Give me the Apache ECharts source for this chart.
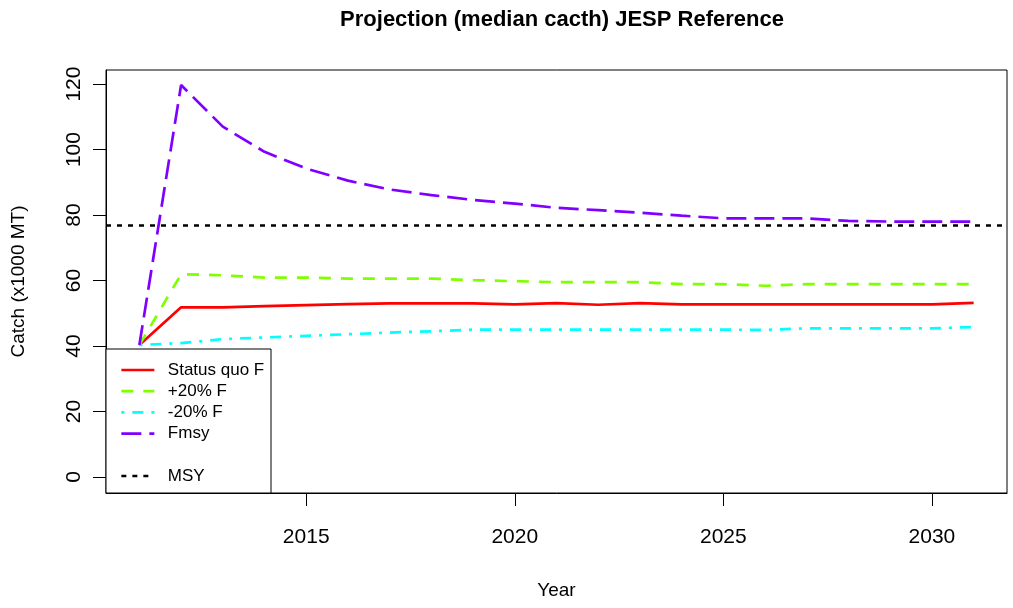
<!DOCTYPE html>
<html>
<head>
<meta charset="utf-8">
<script src="https://cdn.jsdelivr.net/npm/echarts@6/dist/echarts.min.js"></script>
<style>
html,body{margin:0;padding:0;background:#fff;}
#chart{width:1013px;height:608px;}
</style>
</head>
<body>
<div id="chart"></div>
<script>
// ---- data ----
var years = [2011,2012,2013,2014,2015,2016,2017,2018,2019,2020,2021,2022,2023,2024,2025,2026,2027,2028,2029,2030,2031];
var statusQuo = [40.3,51.8,51.8,52.2,52.5,52.8,53.0,53.0,53.0,52.7,53.1,52.6,53.1,52.7,52.7,52.7,52.7,52.7,52.7,52.7,53.2];
var plus20 = [40.3,61.9,61.6,60.9,60.9,60.6,60.6,60.6,60.1,59.8,59.5,59.5,59.5,58.9,58.9,58.4,58.9,58.9,58.9,58.9,58.9];
var minus20 = [40.3,40.9,42.1,42.6,43.1,43.6,44.1,44.5,45.0,45.0,45.0,45.0,45.0,45.0,45.0,44.9,45.4,45.4,45.4,45.4,45.8];
var fmsy = [40.3,119.7,107.0,99.3,94.2,90.5,87.8,86.1,84.6,83.5,82.2,81.5,80.7,79.8,79.0,79.0,79.0,78.2,78.0,78.0,78.0];
var msyValue = 76.9;
var xTicks = [2015,2020,2025,2030];
var yTicks = [0,20,40,60,80,100,120];
var seriesNames = ['Status quo F','+20% F','-20% F','Fmsy'];

function pairs(vals){ return years.map(function(y,i){ return [y, vals[i]]; }); }

var FONT = '"Liberation Sans", Arial, Helvetica, sans-serif';
var chart = echarts.init(document.getElementById('chart'), null, {renderer:'canvas'});

var legendCommon = {
  orient: 'vertical', left: 120, padding: 0,
  itemWidth: 33, itemHeight: 14, itemGap: 0,
  itemStyle: {opacity: 0, borderWidth: 0},
  lineStyle: {width: 2.7},
  textStyle: {fontFamily: FONT, fontSize: 17, color: '#000', lineHeight: 21.2, padding: [0,0,0,8.5]},
  selectedMode: false
};

var option = {
  animation: false,
  backgroundColor: '#ffffff',
  title: {
    text: 'Projection (median cacth) JESP Reference',
    left: 557, top: 4, textAlign: 'center',
    textStyle: {fontFamily: FONT, fontWeight: 'bold', fontSize: 22, color: '#000'}
  },
  grid: {left: 106, right: 6, top: 70, bottom: 115, show: true, borderColor: '#000', borderWidth: 1, backgroundColor: 'transparent'},
  xAxis: {
    type: 'value', min: 2010.2, max: 2031.8,
    name: 'Year', nameLocation: 'middle', nameGap: 88,
    nameTextStyle: {fontFamily: FONT, fontSize: 19, color: '#000'},
    axisLine: {show: true, onZero: false, lineStyle: {color: '#000', width: 1}},
    axisTick: {show: true, inside: false, length: 13, lineStyle: {color: '#000', width: 1}, customValues: xTicks},
    axisLabel: {fontFamily: FONT, fontSize: 21, color: '#000', margin: 34, customValues: xTicks, formatter: function(v){return String(v);}},
    splitLine: {show: false}
  },
  yAxis: {
    type: 'value', min: -4.9, max: 124.3,
    name: 'Catch (x1000 MT)', nameLocation: 'middle', nameGap: 78,
    nameTextStyle: {fontFamily: FONT, fontSize: 19, color: '#000'},
    axisLine: {show: true, onZero: false, lineStyle: {color: '#000', width: 1}},
    axisTick: {show: true, inside: false, length: 13, lineStyle: {color: '#000', width: 1}, customValues: yTicks},
    axisLabel: {fontFamily: FONT, fontSize: 21, color: '#000', margin: 21, rotate: 90, customValues: yTicks},
    splitLine: {show: false}
  },
  legend: [
    Object.assign({data: seriesNames, top: 359.4}, legendCommon),
    Object.assign({data: ['MSY'], top: 465.4}, legendCommon)
  ],
  graphic: [{
    type: 'rect', z: 3,
    shape: {x: 106, y: 349, width: 165, height: 144},
    style: {fill: '#fff', stroke: '#000', lineWidth: 1}
  }],
  series: [
    {name: 'Status quo F', type: 'line', data: pairs(statusQuo), symbol: 'none', z: 2,
     itemStyle: {color: '#FF0000'}, lineStyle: {color: '#FF0000', width: 2.7, type: 'solid'}},
    {name: '+20% F', type: 'line', data: pairs(plus20), symbol: 'none', z: 2,
     itemStyle: {color: '#80FF00'}, lineStyle: {color: '#80FF00', width: 2.7, type: [12,10]}},
    {name: '-20% F', type: 'line', data: pairs(minus20), symbol: 'none', z: 2,
     itemStyle: {color: '#00FFFF'}, lineStyle: {color: '#00FFFF', width: 2.7, type: [3,8,11,8]}},
    {name: 'Fmsy', type: 'line', data: pairs(fmsy), symbol: 'none', z: 2,
     itemStyle: {color: '#8000FF'}, lineStyle: {color: '#8000FF', width: 2.7, type: [20,8]}},
    {name: 'MSY', type: 'line', data: [], symbol: 'none', z: 2,
     itemStyle: {color: '#000'}, lineStyle: {color: '#000', width: 2.7, type: [5,6]},
     markLine: {silent: true, symbol: ['none','none'], label: {show: false},
       lineStyle: {color: '#000', width: 2.7, type: [5,6]},
       data: [{yAxis: msyValue}]}}
  ]
};
chart.setOption(option);
</script>
</body>
</html>
